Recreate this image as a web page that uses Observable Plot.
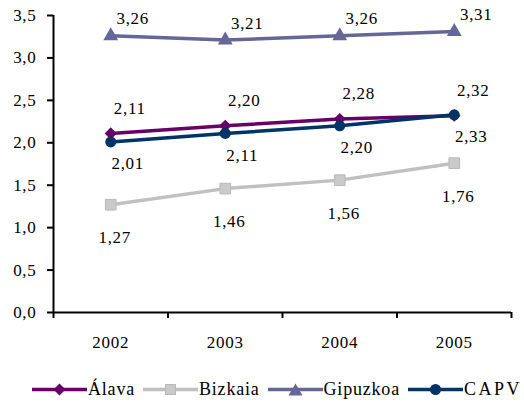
<!DOCTYPE html>
<html>
<head>
<meta charset="utf-8">
<script src="https://cdn.jsdelivr.net/npm/d3@7"></script>
<script src="https://cdn.jsdelivr.net/npm/@observablehq/plot@0.6"></script>
<style>
  html, body { margin: 0; padding: 0; background: #fff; }
  #chart { width: 524px; height: 403px; position: relative; font-family: "Liberation Serif", "Times New Roman", serif; }
  #chart svg text { font-family: "Liberation Serif", "Times New Roman", serif !important; letter-spacing: 0.7px; }
  #legend { position: absolute; left: 32px; top: 376px; display: flex; align-items: center; height: 26px; font-size: 18px; color: #000; white-space: nowrap; }
  .item { display: flex; align-items: center; margin-right: 8px; }
  .item svg { margin-right: 1px; }
</style>
</head>
<body>
<div id="chart"></div>
<script>
const years = [2002, 2003, 2004, 2005];
const seriesNames = ["Álava", "Bizkaia", "Gipuzkoa", "CAPV"];
const alava = [2.11, 2.20, 2.28, 2.32];
const bizkaia = [1.27, 1.46, 1.56, 1.76];
const gipuzkoa = [3.26, 3.21, 3.26, 3.31];
const capv = [2.01, 2.11, 2.20, 2.33];
const yTicks = [0, 0.5, 1, 1.5, 2, 2.5, 3, 3.5];

const values = {"Álava": alava, "Bizkaia": bizkaia, "Gipuzkoa": gipuzkoa, "CAPV": capv};
const style = {
  "Álava":    {color: "#660066", fill: "#660066", symbol: "diamond2", r: 5.5, dx: 19, dy: -25},
  "Bizkaia":  {color: "#c0c0c0", fill: "#cacaca", symbol: "square",   r: 6,   dx: 4,  dy: 33},
  "Gipuzkoa": {color: "#666699", fill: "#666699", symbol: "triangle", r: 5.5, dx: 22, dy: -17},
  "CAPV":     {color: "#003366", fill: "#003366", symbol: "circle",   r: 5.5, dx: 17, dy: 22}
};
const drawOrder = ["Bizkaia", "Gipuzkoa", "Álava", "CAPV"];
const fmt = d => d.toFixed(2).replace(".", ",");
const boundaries = years.map(y => y - 0.5).concat([years[years.length - 1] + 0.5]);
const serif = "'Liberation Serif', 'Times New Roman', serif";

const marks = [];
for (const name of drawOrder) {
  const s = style[name];
  const data = years.map((y, i) => ({year: y, value: values[name][i]}));
  marks.push(Plot.line(data, {x: "year", y: "value", stroke: s.color, strokeWidth: 3.5}));
}
for (const name of drawOrder) {
  const s = style[name];
  const data = years.map((y, i) => ({year: y, value: values[name][i]}));
  marks.push(Plot.dot(data, {x: "year", y: "value", symbol: () => s.symbol, r: s.r, fill: s.fill, stroke: name === "Bizkaia" ? "#b8b8b8" : "none", strokeWidth: 1}));
}
for (const name of drawOrder) {
  const s = style[name];
  const data = years.map((y, i) => ({year: y, value: values[name][i]}));
  marks.push(Plot.text(data, {x: "year", y: "value", text: d => fmt(d.value), dx: s.dx, dy: s.dy, fontSize: 17, fontFamily: serif, fill: "#000", textAnchor: "middle"}));
}

const chart = Plot.plot({
  width: 524,
  height: 360,
  marginLeft: 53,
  marginRight: 13,
  marginTop: 15,
  marginBottom: 48,
  style: {fontSize: "17px", color: "#000", background: "#fff"},
  x: {domain: [boundaries[0], boundaries[boundaries.length - 1]], type: "linear"},
  y: {domain: [0, 3.5]},
  symbol: {type: "identity"},
  marks: [
    Plot.axisY(yTicks, {tickSize: 6, tickPadding: 11, strokeWidth: 2, tickFormat: d => d.toFixed(1).replace(".", ","), fontSize: 17, fontFamily: serif, label: null}),
    Plot.axisX(years, {tickSize: 0, tickPadding: 23, tickFormat: d => String(d), fontSize: 17, fontFamily: serif, label: null}),
    Plot.axisX(boundaries, {tickSize: 6, strokeWidth: 2, tickFormat: () => "", label: null}),
    Plot.ruleX([boundaries[0]], {stroke: "#000", strokeWidth: 2}),
    Plot.ruleY([0], {stroke: "#000", strokeWidth: 2}),
    ...marks
  ]
});
document.getElementById("chart").appendChild(chart);

// Legend
const legend = document.createElement("div");
legend.id = "legend";
const shapes = {
  "diamond2": '<path d="M27.5,0.5 L33.5,6.5 L27.5,12.5 L21.5,6.5 Z"/>',
  "square": '<rect x="22.5" y="1.5" width="10" height="10"/>',
  "triangle": '<path d="M27.5,0.5 L34.5,12.5 L20.5,12.5 Z"/>',
  "circle": '<circle cx="27.5" cy="6.5" r="5.5"/>'
};
for (const name of seriesNames) {
  const s = style[name];
  const item = document.createElement("div");
  item.className = "item";
  const stroke = name === "Bizkaia" ? ' stroke="#b8b8b8"' : "";
  item.innerHTML = `<svg width="55" height="13"><line x1="0" x2="55" y1="6.5" y2="6.5" stroke="${s.color}" stroke-width="3.5"/><g fill="${s.fill}"${stroke}>${shapes[s.symbol]}</g></svg><span style="letter-spacing:${name === "CAPV" ? 2.5 : 0.8}px">${name}</span>`;
  legend.appendChild(item);
}
document.getElementById("chart").appendChild(legend);
</script>
</body>
</html>
